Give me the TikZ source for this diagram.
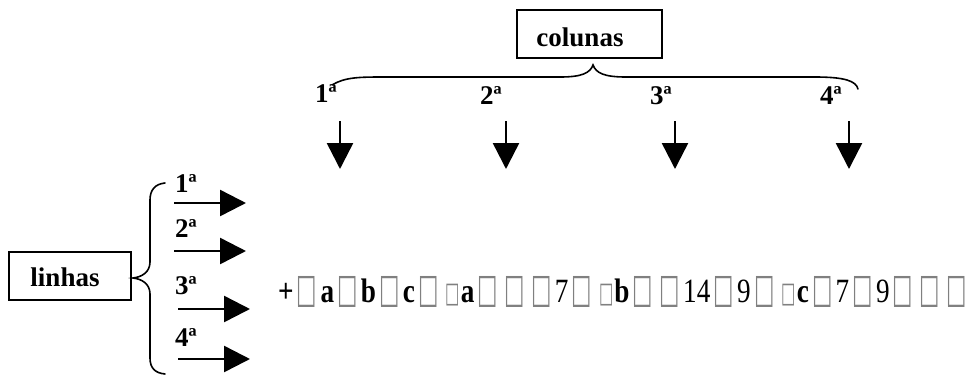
\documentclass[tikz,border=0pt]{standalone}
\usepackage{fontspec}
\setmainfont{Liberation Serif}
\newfontfamily\symf{DejaVu Sans}
\usetikzlibrary{arrows.meta}
\newcommand\qbox{\kern4pt{\color{black!50}\symf\fontsize{27}{30}\selectfont\scalebox{1}[1.5]{□}}\kern4pt}
\newcommand\qsbox{\kern5pt{\color{black!50}\symf\fontsize{19}{22}\selectfont\scalebox{1}[1.5]{□}}\kern1pt}
\tikzset{
  lbl/.style={font=\fontsize{27}{30}\selectfont\bfseries, inner sep=0pt, anchor=base},
  titlebox/.style={draw, line width=2pt, inner sep=0pt},
  darr/.style={line width=2.5pt, -{Triangle[width=26pt,length=26pt]}},
  brc/.style={line width=1.6pt, line cap=round},
}
\begin{document}
\begin{tikzpicture}[x=1pt,y=-1pt]
\useasboundingbox (0,0) rectangle (967,376);
% boxes
\node[titlebox, minimum width=145pt, minimum height=48pt] (colbox) at (589.5,34) {};
\node[lbl] (coltxt) at (580,46) {colunas};
\node[titlebox, minimum width=122pt, minimum height=48pt] (linbox) at (70,276) {};
\node[lbl] (lintxt) at (65,286) {linhas};
% top brace
\draw[brc] (332,85) .. controls (345,77) and (360,77) .. (385,77) -- (560,77)
  .. controls (582,77) and (590,73) .. (593,65)
  .. controls (596,73) and (604,77) .. (626,77) -- (815,77)
  .. controls (845,77) and (856,81) .. (858,89);
% column labels
\node[lbl] (c1) at (326,102) {1ª};
\node[lbl] (c2) at (491,104) {2ª};
\node[lbl] (c3) at (661,104) {3ª};
\node[lbl] (c4) at (831,104) {4ª};
% down arrows
\foreach \i/\x in {1/340,2/506,3/675,4/849}{
  \coordinate (ds\i) at (\x,121);
  \coordinate (de\i) at (\x,169);
  \draw[darr] (ds\i) -- (de\i);
}
% left brace
\draw[brc] (165,183) .. controls (155,184) and (150,190) .. (150,200) -- (150,262)
  .. controls (150,272) and (142,277) .. (133,278)
  .. controls (142,279) and (150,284) .. (150,294) -- (150,358)
  .. controls (150,368) and (155,373) .. (165,374);
% row labels
\node[lbl, anchor=base west] (r1) at (175,192) {1ª};
\node[lbl, anchor=base west] (r2) at (175,237) {2ª};
\node[lbl, anchor=base west] (r3) at (175,294) {3ª};
\node[lbl, anchor=base west] (r4) at (175,346) {4ª};
% right arrows
\coordinate (rs1) at (174,203); \coordinate (re1) at (246,203);
\coordinate (rs2) at (174,251); \coordinate (re2) at (246,251);
\coordinate (rs3) at (178,309); \coordinate (re3) at (250,309);
\coordinate (rs4) at (178,359); \coordinate (re4) at (250,359);
\foreach \i in {1,2,3,4}{ \draw[darr] (rs\i) -- (re\i); }
% formula
\node[inner sep=0pt, anchor=base west] (formula) at (278,302)
  {\scalebox{0.8}[1]{\fontsize{34}{38}\selectfont\textbf{+}\qbox\textbf{a}\qbox\textbf{b}\qbox\textbf{c}\qbox\qsbox\textbf{a}\qbox\qbox\qbox7\qbox\qsbox\textbf{b}\qbox\qbox14\qbox9\qbox\qsbox\textbf{c}\qbox7\qbox9\qbox\qbox\qbox}};
\end{tikzpicture}
\end{document}
